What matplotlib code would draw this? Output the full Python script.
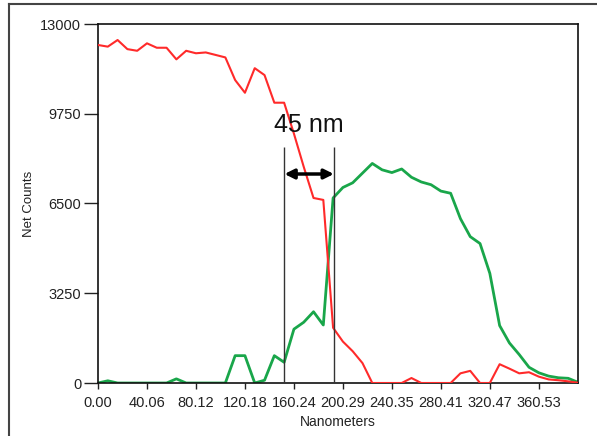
import numpy as np
import matplotlib
matplotlib.use("Agg")
import matplotlib.pyplot as plt
from matplotlib import font_manager
from matplotlib.lines import Line2D

# ---- data ----
step_nm = 8.0116
n_points = 50
red_counts = [12240, 12180, 12420, 12090, 12030, 12300, 12140, 12140, 11720, 12030,
              11940, 11970, 11880, 11790, 10970, 10510, 11400, 11150, 10150, 10150,
              9030, 7830, 6700, 6630, 2000, 1500, 1150, 720, 0, 0,
              0, 0, 180, 0, 0, 0, 0, 350, 440, 0,
              0, 680, 520, 350, 390, 230, 130, 100, 60, 10]
green_counts = [0, 80, 0, 0, 0, 0, 0, 0, 150, 0,
                0, 0, 0, 0, 990, 990, 0, 100, 990, 750,
                1950, 2200, 2580, 2100, 6700, 7080, 7250, 7600, 7950, 7720,
                7620, 7750, 7450, 7280, 7180, 6950, 6870, 5950, 5300, 5050,
                3970, 2080, 1450, 1030, 570, 370, 250, 190, 170, 25]
x_tick_labels = ["0.00", "40.06", "80.12", "120.18", "160.24", "200.29",
                 "240.35", "280.41", "320.47", "360.53"]
y_ticks = [0, 3250, 6500, 9750, 13000]
boundary_left = 152.5
boundary_right = 192.9
bracket_top = 8546
arrow_level = 7568
annotation = "45 nm"

nm = np.arange(n_points) * step_nm
x_ticks = [float(s) for s in x_tick_labels]

avail = {f.name for f in font_manager.fontManager.ttflist}
narrow = "Liberation Sans Narrow" if "Liberation Sans Narrow" in avail else "Liberation Sans"
plt.rcParams['font.family'] = [narrow, 'DejaVu Sans']

fig = plt.figure(figsize=(5.97, 4.36), dpi=100)
W, H = 597, 436
ax = fig.add_axes([98 / W, 1 - 383 / H, (578 - 98) / W, (383 - 24) / H])

ax.plot(nm, red_counts, color="#ff2a2a", lw=1.5, zorder=3)
ax.plot(nm, green_counts, color="#19a64a", lw=2.0, zorder=2)

ax.set_xlim(0, nm[-1])
ax.set_ylim(0, 13000)
ax.set_xticks(x_ticks)
ax.set_xticklabels(x_tick_labels)
ax.set_yticks(y_ticks)
ax.set_yticklabels([str(v) for v in y_ticks])
ax.tick_params(axis='y', length=10, width=1, pad=2, labelsize=10.5, colors="#222222")
ax.tick_params(axis='x', length=4, width=1, pad=5, labelsize=10.5, colors="#222222")
for s in ax.spines.values():
    s.set_linewidth(1.2)
    s.set_color("#111111")

ax.set_xlabel("Nanometers", fontsize=10, labelpad=4, color="#222222")
ax.set_ylabel("Net Counts", fontsize=9.5, labelpad=4, color="#222222")

# bracket lines
ax.vlines([boundary_left, boundary_right], 0, bracket_top, colors="#333333", lw=1.0, zorder=4)
ax.annotate("", xy=(boundary_left, arrow_level), xytext=(boundary_right, arrow_level),
            arrowprops=dict(arrowstyle="<|-|>", color="black", lw=2.5,
                            mutation_scale=14, shrinkA=0, shrinkB=0), zorder=5)
ax.text((boundary_left + boundary_right) / 2, 9343, annotation, ha="center", va="center",
        fontsize=18, color="#111111", zorder=5)

# outer frame lines (screenshot border)
fig.add_artist(Line2D([9 / W, 9 / W], [0, 1 - 4 / H], color="#444444", lw=1.5))
fig.add_artist(Line2D([9 / W, 1], [1 - 4 / H, 1 - 4 / H], color="#444444", lw=1.5))

fig.savefig("out.png", dpi=100)
